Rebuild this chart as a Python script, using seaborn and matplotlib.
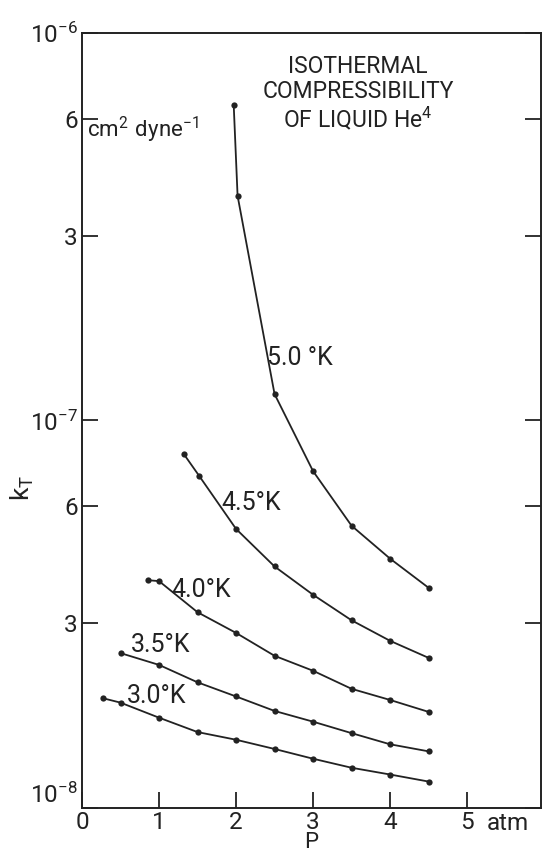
import numpy as np
import pandas as pd
import matplotlib
matplotlib.use('Agg')
import matplotlib.pyplot as plt
import matplotlib.transforms as mtransforms
from matplotlib.ticker import FixedLocator, FixedFormatter, NullLocator
import seaborn as sns

# --- データ ---
temps = ['5.0', '4.5', '4.0', '3.5', '3.0']
p_50 = [1.97, 2.02, 2.5, 3.0, 3.5, 4.0, 4.5]
k_50 = [6.5e-7, 3.8e-7, 1.17e-7, 7.4e-8, 5.35e-8, 4.4e-8, 3.7e-8]
p_45 = [1.32, 1.52, 2.0, 2.5, 3.0, 3.5, 4.0, 4.5]
k_45 = [8.2e-8, 7.2e-8, 5.25e-8, 4.2e-8, 3.55e-8, 3.05e-8, 2.7e-8, 2.44e-8]
p_40 = [0.86, 1.0, 1.5, 2.0, 2.5, 3.0, 3.5, 4.0, 4.5]
k_40 = [3.87e-8, 3.85e-8, 3.2e-8, 2.83e-8, 2.47e-8, 2.26e-8, 2.03e-8, 1.9e-8, 1.77e-8]
p_35 = [0.5, 1.0, 1.5, 2.0, 2.5, 3.0, 3.5, 4.0, 4.5]
k_35 = [2.51e-8, 2.34e-8, 2.11e-8, 1.94e-8, 1.78e-8, 1.67e-8, 1.56e-8, 1.46e-8, 1.40e-8]
p_30 = [0.27, 0.5, 1.0, 1.5, 2.0, 2.5, 3.0, 3.5, 4.0, 4.5]
k_30 = [1.92e-8, 1.87e-8, 1.71e-8, 1.57e-8, 1.50e-8, 1.42e-8, 1.34e-8, 1.27e-8, 1.22e-8, 1.17e-8]

curve_labels = ['5.0 °K', '4.5°K', '4.0°K', '3.5°K', '3.0°K']

x_ticks = [0, 1, 2, 3, 4, 5]
x_ticklabels = ['0', '1', '2', '3', '4', '5']
y_ticks = [1e-8, 3e-8, 6e-8, 1e-7, 3e-7, 6e-7, 1e-6]
y_ticklabels = [r'$\mathregular{10^{-8}}$', '3', '6', r'$\mathregular{10^{-7}}$',
                '3', '6', r'$\mathregular{10^{-6}}$']

# --- データフレームにまとめる ---
frames = []
for t, p, k in zip(temps, [p_50, p_45, p_40, p_35, p_30],
                   [k_50, k_45, k_40, k_35, k_30]):
    frames.append(pd.DataFrame({'P': p, 'kT': k, 'T': t}))
df = pd.concat(frames, ignore_index=True)

# --- 描画 ---
sns.set_theme(style='ticks')
plt.rcParams['font.family'] = ['Roboto', 'DejaVu Sans']
ink = '#222222'

fig = plt.figure(figsize=(5.42, 8.58), dpi=100)
ax = fig.add_axes([0.1513, 0.0583, 0.8469, 0.9033])

sns.lineplot(data=df, x='P', y='kT', hue='T', palette=[ink] * len(temps),
             marker='o', markersize=4.5, markeredgewidth=0, linewidth=1.3,
             estimator=None, sort=False, legend=False, ax=ax)

ax.set_yscale('log')
ax.set_xlim(0, 5.96)
ax.set_ylim(1e-8, 1e-6)

ax.xaxis.set_major_locator(FixedLocator(x_ticks))
ax.xaxis.set_major_formatter(FixedFormatter(x_ticklabels))
ax.yaxis.set_major_locator(FixedLocator(y_ticks))
ax.yaxis.set_major_formatter(FixedFormatter(y_ticklabels))
ax.yaxis.set_minor_locator(NullLocator())
ax.xaxis.set_minor_locator(NullLocator())

ax.tick_params(axis='both', direction='in', length=11.5, width=1.3,
               color=ink, labelcolor=ink, labelsize=17.5)
ax.tick_params(axis='y', right=True, pad=3)
ax.tick_params(axis='x', pad=2)
for s in ax.spines.values():
    s.set_linewidth(1.4)
    s.set_color(ink)

# 10^-8 のラベルは軸線の上に載せる (原図と同じく "0" と重ならないように)
ax.yaxis.get_major_ticks()[0].label1.set_verticalalignment('bottom')

ax.set_xlabel('P', fontsize=16, color=ink, labelpad=-1)
ax.set_ylabel(r'$\mathregular{k_T}$', fontsize=19, color=ink)
ax.yaxis.set_label_coords(-0.10, 0.413)

# 単位 "atm"
trans = mtransforms.blended_transform_factory(ax.transData, ax.transAxes)
ax.text(5.25, -0.0055, 'atm', transform=trans, ha='left', va='top',
        fontsize=17.5, color=ink)

# タイトルと単位
ax.text(0.601, 0.9716, 'ISOTHERMAL\nCOMPRESSIBILITY\n' + r'OF LIQUID He$^{\mathregular{4}}$',
        transform=ax.transAxes, ha='center', va='top', fontsize=16.5,
        color=ink, linespacing=1.1)
ax.text(0.011, 0.875, r'$\mathregular{cm^2\ dyne^{-1}}$', transform=ax.transAxes,
        ha='left', va='center', fontsize=16, color=ink)

# 曲線ラベル
label_pos = [(2.40, 1.45e-7), (1.81, 6.12e-8), (1.165, 3.65e-8),
             (0.632, 2.63e-8), (0.58, 1.95e-8)]
for (x, y), lab in zip(label_pos, curve_labels):
    ax.text(x, y, lab, ha='left', va='center', fontsize=18, color=ink)

fig.savefig('out.png', dpi=100)
plt.close(fig)
